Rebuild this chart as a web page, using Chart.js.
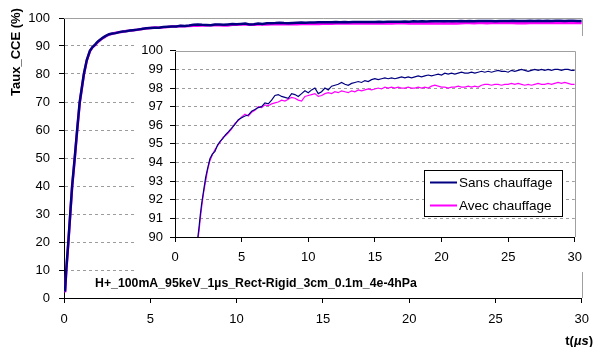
<!DOCTYPE html>
<html>
<head>
<meta charset="utf-8">
<script src="https://cdn.jsdelivr.net/npm/chart.js@4"></script>
<style>
  html, body { margin: 0; padding: 0; background: #fff; }
  #wrap { position: relative; width: 598px; height: 347px; }
  #main { position: absolute; left: 0; top: 0; }
  #zoom { position: absolute; left: 134px; top: 36px; background: #fff; }
</style>
</head>
<body>
<div id="wrap">
  <canvas id="main" width="598" height="347"></canvas>
  <canvas id="zoom" width="456" height="236"></canvas>
</div>
<script>
// --- Data: CCE rate (%) vs time (µs), with and without heating ---
const tUs = [
  0.06, 0.13, 0.25, 0.36, 0.47, 0.62, 0.76, 0.91, 1.15, 1.32,
  1.5, 1.65, 1.8, 1.9, 2.0, 2.15, 2.3, 2.45, 2.62, 2.8,
  3.0, 3.2, 3.4, 3.6, 3.8, 4.0, 4.25, 4.5, 4.75, 5.0,
  5.25, 5.5, 5.75, 6.0, 6.25, 6.5, 6.75, 7.0, 7.25, 7.5,
  7.75, 8.0, 8.25, 8.5, 8.75, 9.0, 9.25, 9.5, 9.75, 10.0,
  10.25, 10.5, 10.75, 11.0, 11.25, 11.5, 11.75, 12.0, 12.25, 12.5,
  12.75, 13.0, 13.25, 13.5, 13.75, 14.0, 14.25, 14.5, 14.75, 15.0,
  15.25, 15.5, 15.75, 16.0, 16.25, 16.5, 16.75, 17.0, 17.25, 17.5,
  17.75, 18.0, 18.25, 18.5, 18.75, 19.0, 19.25, 19.5, 19.75, 20.0,
  20.25, 20.5, 20.75, 21.0, 21.25, 21.5, 21.75, 22.0, 22.25, 22.5,
  22.75, 23.0, 23.25, 23.5, 23.75, 24.0, 24.25, 24.5, 24.75, 25.0,
  25.25, 25.5, 25.75, 26.0, 26.25, 26.5, 26.75, 27.0, 27.25, 27.5,
  27.75, 28.0, 28.25, 28.5, 28.75, 29.0, 29.25, 29.5, 29.75, 30.0
];

const sansChauffage = [
  2.3, 10, 20, 30, 40, 50, 60, 70, 80, 85,
  88.3, 89.6, 90.5, 91.2, 91.8, 92.5, 93.2, 93.7, 94.2, 94.45,
  94.6, 94.95, 95.15, 95.3, 95.5, 95.65, 95.85, 96.05, 96.3, 96.4,
  96.5, 96.55, 96.75, 96.85, 96.95, 97.0, 97.2, 97.15, 97.35, 97.6,
  97.65, 97.55, 97.5, 97.45, 97.7, 97.65, 97.55, 97.7, 97.85, 97.75,
  97.9, 98.0, 97.7, 97.8, 98.0, 97.9, 98.1, 98.15, 98.2, 98.3,
  98.2, 98.15, 98.25, 98.3, 98.35, 98.3, 98.4, 98.35, 98.45, 98.5,
  98.45, 98.5, 98.55, 98.5, 98.55, 98.5, 98.55, 98.6, 98.55, 98.6,
  98.55, 98.6, 98.65, 98.6, 98.65, 98.7, 98.65, 98.7, 98.75, 98.7,
  98.8, 98.75, 98.8, 98.75, 98.8, 98.85, 98.8, 98.8, 98.85, 98.8,
  98.85, 98.9, 98.85, 98.9, 98.85, 98.9, 98.95, 98.9, 98.9, 98.85,
  98.95, 98.9, 98.95, 99.0, 98.95, 98.9, 98.95, 99.0, 98.95, 99.0,
  98.95, 99.0, 98.95, 99.0, 99.0, 98.95, 99.0, 99.0, 98.95, 98.95
];

const avecChauffage = [
  2.0, 9.6, 19.5, 29.6, 39.5, 49.6, 59.5, 69.6, 79.7, 84.8,
  88.1, 89.5, 90.3, 91.0, 91.6, 92.4, 93.0, 93.6, 94.1, 94.4,
  94.7, 94.9, 95.1, 95.35, 95.45, 95.6, 95.8, 96.1, 96.25, 96.45,
  96.6, 96.5, 96.7, 96.8, 97.0, 96.95, 97.1, 97.05, 97.15, 97.2,
  97.25, 97.35, 97.3, 97.4, 97.5, 97.45, 97.35, 97.3, 97.55, 97.6,
  97.65, 97.7, 97.55, 97.6, 97.7, 97.75, 97.7, 97.8, 97.75, 97.85,
  97.8, 97.75, 97.85, 97.8, 97.9, 97.85, 97.9, 97.95, 97.9, 97.95,
  98.0, 97.95, 98.05, 98.0, 98.05, 98.0, 98.05, 98.0, 98.0, 98.05,
  98.0, 98.0, 98.05, 98.0, 98.05, 98.0, 98.1, 98.15, 98.1, 98.05,
  98.05, 98.0, 98.05, 98.05, 98.1, 98.05, 98.05, 98.1, 98.05, 98.1,
  98.05, 98.15, 98.2, 98.2, 98.15, 98.2, 98.2, 98.15, 98.2, 98.2,
  98.25, 98.2, 98.25, 98.2, 98.15, 98.2, 98.15, 98.2, 98.25, 98.2,
  98.2, 98.25, 98.2, 98.25, 98.3, 98.25, 98.3, 98.25, 98.2, 98.2
];

const seriesLabels = ['Sans chauffage', 'Avec chauffage'];
const seriesColors = ['#000080', '#ff00ff'];
const runLabel = 'H+_100mA_95keV_1µs_Rect-Rigid_3cm_0.1m_4e-4hPa';

const FONT = "'Liberation Sans', Arial, sans-serif";

function points(values) {
  return tUs.map((t, i) => ({ x: t, y: values[i] }));
}

function datasets(width) {
  return [sansChauffage, avecChauffage].map((vals, i) => ({
    label: seriesLabels[i],
    data: points(vals),
    borderColor: seriesColors[i],
    borderWidth: width,
    pointRadius: 0,
    tension: 0,
    fill: false
  }));
}

// gray top/right frame of a plot area (left/bottom are the black axes)
const frame = {
  id: 'frame',
  beforeDatasetsDraw(chart) {
    const { ctx, chartArea: a } = chart;
    ctx.save();
    ctx.strokeStyle = '#a0a0a0';
    ctx.lineWidth = 1;
    ctx.beginPath();
    ctx.moveTo(a.left, Math.round(a.top) + 0.5);
    ctx.lineTo(Math.round(a.right) + 0.5, Math.round(a.top) + 0.5);
    ctx.lineTo(Math.round(a.right) + 0.5, a.bottom);
    ctx.stroke();
    ctx.restore();
  }
};

// axis titles and run description on the big chart
const mainText = {
  id: 'mainText',
  afterDraw(chart) {
    const { ctx, chartArea: a } = chart;
    ctx.save();
    ctx.fillStyle = '#000';
    // y title
    ctx.translate(16, a.top + 34);
    ctx.rotate(-Math.PI / 2);
    ctx.font = 'bold 13px ' + FONT;
    ctx.textAlign = 'center';
    ctx.textBaseline = 'middle';
    ctx.fillText('Taux_CCE (%)', 0, 0);
    ctx.setTransform(1, 0, 0, 1, 0, 0);

    // run description
    ctx.font = 'bold 12.3px ' + FONT;
    ctx.textAlign = 'left';
    ctx.fillText(runLabel, 95, a.bottom - 14);

    // x title: t(µs) with italic unit
    const parts = [['t(', 'bold'], ['µs', 'italic bold'], [')', 'bold']];
    let x = 593;
    ctx.textAlign = 'left';
    ctx.textBaseline = 'alphabetic';
    const widths = parts.map(([s, st]) => { ctx.font = st + ' 13px ' + FONT; return ctx.measureText(s).width; });
    x -= widths.reduce((p, c) => p + c, 0);
    parts.forEach(([s, st], i) => {
      ctx.font = st + ' 13px ' + FONT;
      ctx.fillText(s, x, 345);
      x += widths[i];
    });
    ctx.restore();
  }
};

// boxed legend inside the zoomed chart
const boxLegend = {
  id: 'boxLegend',
  afterDatasetsDraw(chart) {
    const { ctx, chartArea: a } = chart;
    const x = Math.round(a.right) - 151, y = Math.round(a.top) + 119;
    const w = 138, h = 46;
    ctx.save();
    ctx.fillStyle = '#fff';
    ctx.fillRect(x, y, w, h);
    ctx.strokeStyle = '#000';
    ctx.lineWidth = 1;
    ctx.strokeRect(x + 0.5, y + 0.5, w, h);
    ctx.font = '13.5px ' + FONT;
    ctx.textBaseline = 'middle';
    chart.data.datasets.forEach((ds, i) => {
      const ly = y + 12.5 + i * 23;
      ctx.strokeStyle = ds.borderColor;
      ctx.lineWidth = 2;
      ctx.beginPath();
      ctx.moveTo(x + 6, ly);
      ctx.lineTo(x + 33, ly);
      ctx.stroke();
      ctx.fillStyle = '#000';
      ctx.fillText(ds.label, x + 35, ly + 1);
    });
    ctx.restore();
  }
};

function gridColor(lo, hi) {
  return c => (c.tick && (c.tick.value === lo || c.tick.value === hi)) ? 'rgba(0,0,0,0)' : '#9c9c9c';
}

function axes(yMin, yMax, yStep, yWidth, yPad, xHeight, xPad) {
  const tickFont = { family: FONT, size: 13 };
  return {
    x: {
      type: 'linear', min: 0, max: 30,
      ticks: { stepSize: 5, color: '#000', font: tickFont, padding: xPad, maxRotation: 0 },
      grid: { drawOnChartArea: false, tickLength: 5, tickColor: '#000' },
      border: { color: '#000' },
      afterFit: s => { s.height = xHeight; }
    },
    y: {
      min: yMin, max: yMax,
      ticks: { stepSize: yStep, color: '#000', font: tickFont, padding: yPad },
      grid: { color: gridColor(yMin, yMax), tickColor: '#000', tickLength: 5, tickBorderDash: [] },
      border: { color: '#000', dash: [3, 3] },
      afterFit: s => { s.width = yWidth; }
    }
  };
}

const common = {
  responsive: false,
  animation: false,
  devicePixelRatio: 1,
  plugins: { legend: { display: false }, tooltip: { enabled: false } }
};

new Chart(document.getElementById('main'), {
  type: 'line',
  data: { datasets: datasets(2.5) },
  options: Object.assign({}, common, {
    layout: { padding: { left: 0, right: 7, top: 18, bottom: 0 } },
    scales: axes(0, 100, 10, 64, 9, 49, 9)
  }),
  plugins: [frame, mainText]
});

new Chart(document.getElementById('zoom'), {
  type: 'line',
  data: { datasets: datasets(1.2) },
  options: Object.assign({}, common, {
    layout: { padding: { left: 0, right: 15, top: 12, bottom: 0 } },
    scales: axes(90, 100, 1, 41, 7, 35, 8)
  }),
  plugins: [frame, boxLegend]
});
</script>
</body>
</html>
